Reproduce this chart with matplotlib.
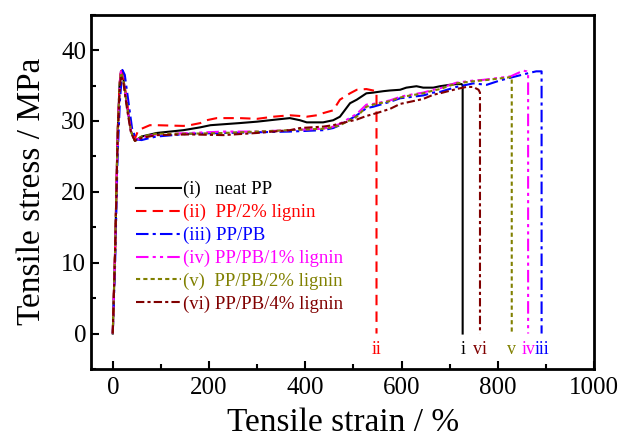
import matplotlib.pyplot as plt
from matplotlib.ticker import MultipleLocator

plt.rcParams['font.family'] = ['Liberation Serif', 'DejaVu Serif']
plt.rcParams['mathtext.fontset'] = 'stix'

# strain (%) / stress (MPa), ending with the drop at break
strain_i = [0, 5, 10, 14, 17, 22, 30, 38, 46, 60, 91, 147, 182, 203, 264, 300, 340, 368, 389, 403, 424,
            437, 458, 472, 493, 507, 527, 541, 562, 576, 597, 610, 631, 645, 666, 680, 700, 714, 725, 727, 727]
stress_i = [0, 12, 28, 35, 37.0, 36, 32, 28.5, 27.2, 27.8, 28.3, 28.7, 29.1, 29.4, 29.7, 29.9, 30.2, 30.4, 30.1,
            29.8, 29.8, 29.8, 30.1, 30.6, 32.5, 33.0, 33.9, 34.0, 34.2, 34.3, 34.4, 34.7, 34.9, 34.7, 34.7, 34.9,
            35.1, 35.2, 35.2, 35.0, 0]

strain_ii = [0, 5, 10, 14, 17, 22, 30, 38, 46, 53, 77, 91, 147, 160, 182, 195, 216, 264, 300, 334, 368, 389,
             403, 424, 437, 458, 472, 493, 507, 527, 541, 548, 548]
stress_ii = [0, 12, 28, 35, 37.4, 36.3, 32.5, 29, 27.5, 28.7, 29.4, 29.4, 29.3, 29.4, 29.7, 30.1, 30.4, 30.4,
             30.3, 30.6, 30.8, 30.7, 30.6, 30.8, 31.1, 31.5, 33.0, 33.9, 34.4, 34.5, 34.3, 34.2, 0]

strain_iii = [0, 5, 10, 15, 20, 25, 32, 40, 48, 60, 77, 91, 160, 230, 299, 368, 437, 458, 472, 507, 527, 541,
              576, 597, 610, 645, 666, 680, 714, 749, 777, 804, 832, 867, 880, 891, 891]
stress_iii = [0, 10, 25, 33, 37.2, 36.5, 33, 29, 27.4, 27.3, 27.6, 27.8, 28.2, 28.3, 28.4, 28.5, 28.7, 29.0,
              29.4, 30.8, 31.8, 32.0, 32.7, 33.2, 33.3, 33.6, 34.0, 34.1, 34.8, 35.3, 35.1, 35.7, 36.2, 36.8,
              37.0, 37.0, 0]

strain_iv = [0, 5, 10, 14, 17, 22, 30, 38, 46, 60, 91, 160, 230, 299, 368, 437, 458, 472, 507, 527, 541, 576,
             597, 610, 645, 666, 680, 714, 749, 770, 804, 827, 853, 860, 863, 863]
stress_iv = [0, 12, 28, 35, 37.0, 36, 32, 28.5, 27.2, 27.7, 28.1, 28.3, 28.5, 28.5, 28.7, 28.9, 29.2, 29.6,
             31.0, 32.3, 32.4, 32.9, 33.4, 33.6, 34.0, 34.4, 34.6, 35.4, 35.7, 35.8, 36.1, 36.3, 37.1, 37.0,
             36.8, 0]

strain_v = [0, 5, 10, 14, 17, 22, 30, 38, 46, 60, 91, 160, 230, 299, 368, 437, 458, 472, 507, 527, 541, 576,
            597, 610, 645, 666, 680, 714, 749, 780, 804, 829, 829]
stress_v = [0, 12, 28, 35, 36.8, 35.8, 32, 28.5, 27.2, 27.8, 28.2, 28.2, 28.3, 28.5, 28.7, 28.9, 29.1, 29.4,
            30.6, 32.0, 32.3, 32.8, 33.3, 33.5, 33.9, 34.3, 34.5, 35.3, 35.6, 35.8, 36.0, 36.2, 0]

strain_vi = [0, 5, 10, 14, 17, 22, 30, 38, 46, 60, 91, 160, 230, 299, 368, 389, 437, 458, 507, 527, 548, 576,
             597, 645, 666, 680, 714, 735, 749, 760, 763, 763]
stress_vi = [0, 12, 27, 34, 36.4, 35.5, 31.5, 28.3, 27.2, 27.6, 28.0, 28.1, 28.0, 28.3, 28.7, 29.0, 29.2, 29.4,
             30.2, 30.7, 31.1, 31.7, 32.4, 33.1, 33.7, 33.9, 34.5, 34.8, 34.8, 34.4, 34.0, 0]

labels = ['(i)   neat PP', '(ii)  PP/2% lignin', '(iii) PP/PB', '(iv) PP/PB/1% lignin',
          '(v)  PP/PB/2% lignin', '(vi) PP/PB/4% lignin']
break_marks = ['i', 'ii', 'iii', 'iv', 'v', 'vi']

colors = ['black', 'red', 'blue', 'magenta', '#808000', '#800000']
styles = ['-', (0, (5, 3)), (0, (6, 2, 1.5, 2)), (0, (6, 2, 1.5, 2, 1.5, 2)), (0, (2, 1.5)),
          (0, (4, 1.5, 1.5, 1.5))]

xs = [strain_i, strain_ii, strain_iii, strain_iv, strain_v, strain_vi]
ys = [stress_i, stress_ii, stress_iii, stress_iv, stress_v, stress_vi]

fig = plt.figure(figsize=(6.24, 4.44), dpi=100)
ax = fig.add_axes([0.146, 0.169, 0.806, 0.798])

for x, y, c, ls, lab in zip(xs, ys, colors, styles, labels):
    ax.plot(x, y, color=c, linestyle=ls, linewidth=1.5, label=lab)

# labels under each break line
for x, c, m in zip(xs, colors, break_marks):
    ax.text(x[-1], -2.3, m, color=c, fontsize=13, ha='center', va='center')

ax.set_xlim(-45, 1000)
ax.set_ylim(-5, 45)
ax.xaxis.set_major_locator(MultipleLocator(200))
ax.xaxis.set_minor_locator(MultipleLocator(100))
ax.yaxis.set_major_locator(MultipleLocator(10))
ax.yaxis.set_minor_locator(MultipleLocator(5))
ax.tick_params(which='both', direction='in', width=1.5, labelsize=18)
ax.tick_params(axis='x', pad=6)
ax.tick_params(which='major', length=6)
ax.tick_params(which='minor', length=3.5)
for s in ax.spines.values():
    s.set_linewidth(2)

ax.set_xlabel('Tensile strain / %', fontsize=24, labelpad=6)
ax.set_ylabel('Tensile stress / MPa', fontsize=24, labelpad=10)

leg = ax.legend(loc='upper left', bbox_to_anchor=(0.055, 0.578), frameon=False, fontsize=13.5,
                handlelength=2.4, handletextpad=0.1, labelspacing=0.3, labelcolor='linecolor')

fig.savefig('out.png', dpi=100)
